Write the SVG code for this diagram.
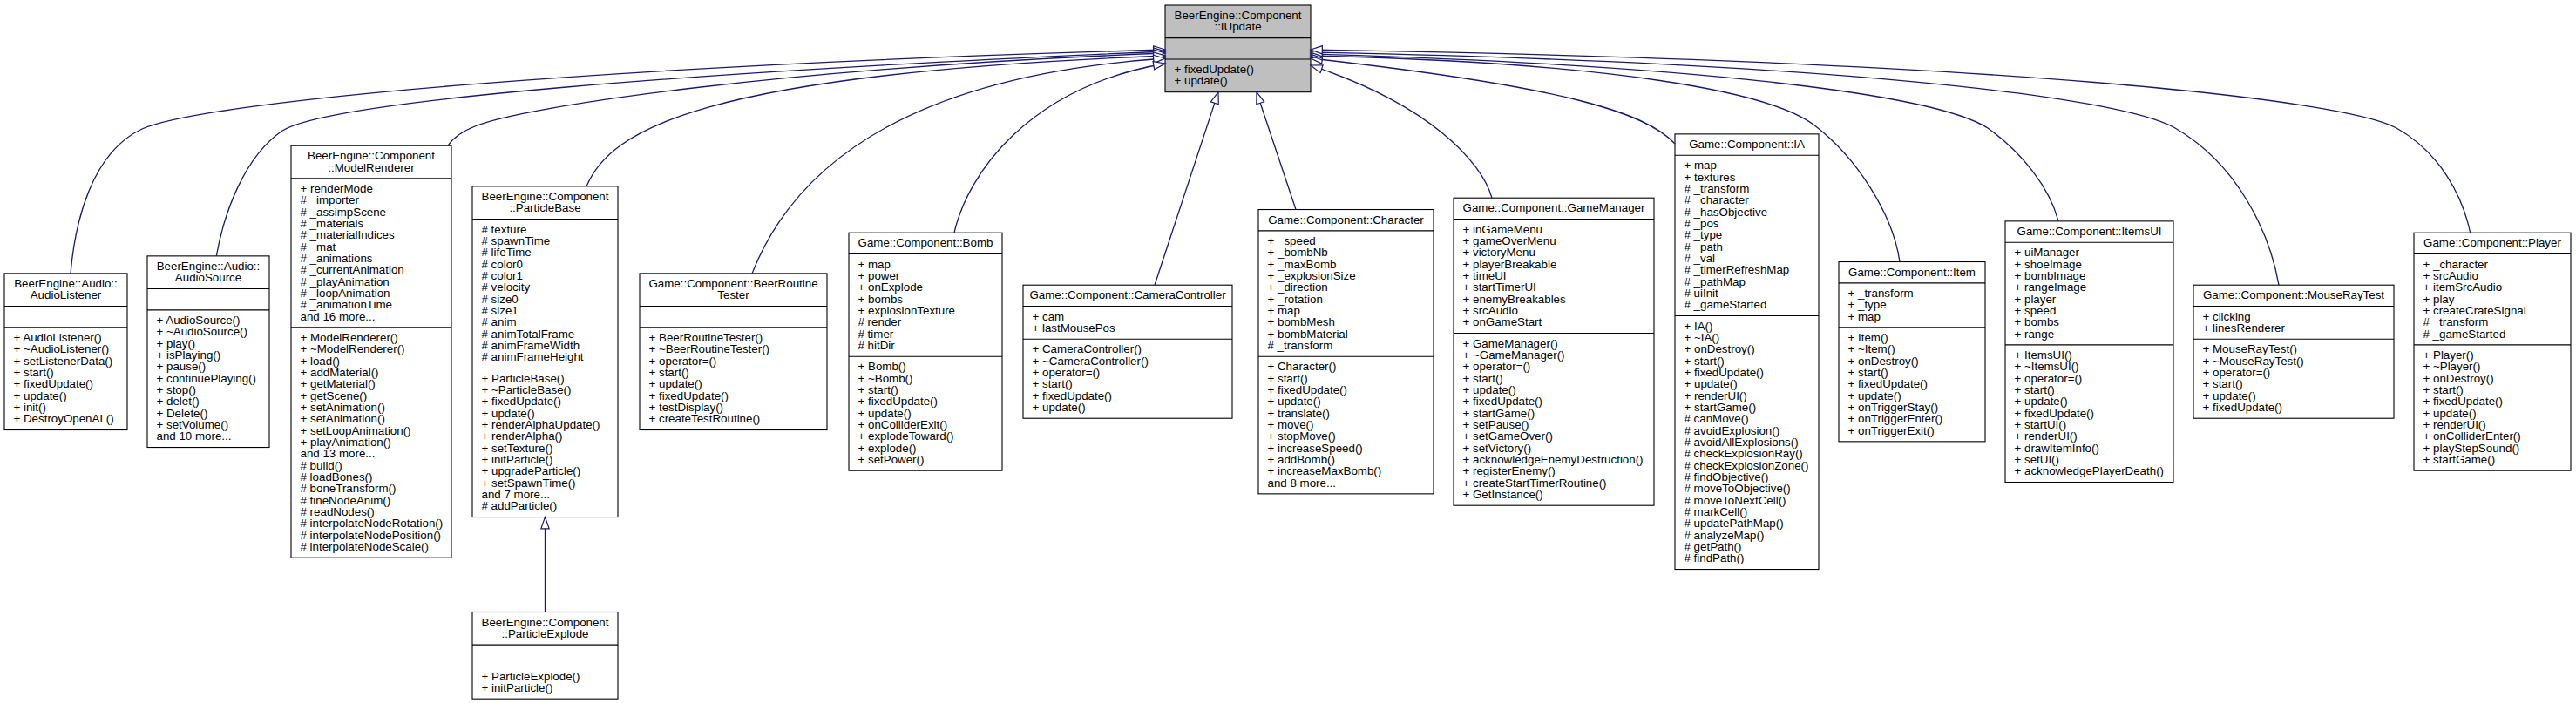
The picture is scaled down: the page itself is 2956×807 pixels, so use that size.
<svg xmlns="http://www.w3.org/2000/svg" width="2956" height="807" viewBox="0 0 2956 807">
<defs>
<style>
text{font-family:"Liberation Sans",Arial,Helvetica,sans-serif;font-size:13.33px;fill:#000}
.t{text-anchor:middle}
.n rect{fill:#fff;stroke:#000;stroke-width:1.1}
.n line{stroke:#000;stroke-width:1.1}
#n_iupdate rect{fill:#bfbfbf}
.e path{fill:none;stroke:#191970;stroke-width:1.3;marker-end:url(#arr)}
</style>
<marker id="arr" markerUnits="userSpaceOnUse" viewBox="-1 -1 16 12" refX="13.3" refY="4.67" markerWidth="16" markerHeight="12" orient="auto"><path d="M0,0 L13.3,4.67 L0,9.33 Z" fill="#fff" stroke="#191970" stroke-width="1.2"/></marker>
</defs>
<rect width="2956" height="807" fill="#fff"/>

<g id="n_iupdate" class="n"><rect x="1337" y="6" width="167" height="99.67"/><line x1="1337" y1="43.67" x2="1504" y2="43.67"/><line x1="1337" y1="68" x2="1504" y2="68"/>
<text class="t"><tspan x="1420.5" y="22">BeerEngine::Component</tspan><tspan x="1420.5" y="35.33">::IUpdate</tspan></text>
<text><tspan x="1347.5" y="84">+ fixedUpdate()</tspan><tspan x="1347.5" y="97.33">+ update()</tspan></text></g>

<g id="n_audiolistener" class="n"><rect x="5" y="313.87" width="141" height="179.67"/><line x1="5" y1="351.53" x2="146" y2="351.53"/><line x1="5" y1="375.87" x2="146" y2="375.87"/>
<text class="t"><tspan x="75.5" y="329.87">BeerEngine::Audio::</tspan><tspan x="75.5" y="343.2">AudioListener</tspan></text>
<text><tspan x="15.5" y="391.87">+ AudioListener()</tspan><tspan x="15.5" y="405.2">+ ~AudioListener()</tspan><tspan x="15.5" y="418.53">+ setListenerData()</tspan><tspan x="15.5" y="431.87">+ start()</tspan><tspan x="15.5" y="445.2">+ fixedUpdate()</tspan><tspan x="15.5" y="458.53">+ update()</tspan><tspan x="15.5" y="471.87">+ init()</tspan><tspan x="15.5" y="485.2">+ DestroyOpenAL()</tspan></text></g>

<g id="n_audiosource" class="n"><rect x="169" y="293.87" width="140" height="219.67"/><line x1="169" y1="331.53" x2="309" y2="331.53"/><line x1="169" y1="355.87" x2="309" y2="355.87"/>
<text class="t"><tspan x="239" y="309.87">BeerEngine::Audio::</tspan><tspan x="239" y="323.2">AudioSource</tspan></text>
<text><tspan x="179.5" y="371.87">+ AudioSource()</tspan><tspan x="179.5" y="385.2">+ ~AudioSource()</tspan><tspan x="179.5" y="398.53">+ play()</tspan><tspan x="179.5" y="411.87">+ isPlaying()</tspan><tspan x="179.5" y="425.2">+ pause()</tspan><tspan x="179.5" y="438.53">+ continuePlaying()</tspan><tspan x="179.5" y="451.87">+ stop()</tspan><tspan x="179.5" y="465.2">+ delet()</tspan><tspan x="179.5" y="478.53">+ Delete()</tspan><tspan x="179.5" y="491.87">+ setVolume()</tspan><tspan x="179.5" y="505.2">and 10 more...</tspan></text></g>

<g id="n_modelrenderer" class="n"><rect x="334" y="167.2" width="184" height="473"/><line x1="334" y1="204.87" x2="518" y2="204.87"/><line x1="334" y1="375.87" x2="518" y2="375.87"/>
<text class="t"><tspan x="426" y="183.2">BeerEngine::Component</tspan><tspan x="426" y="196.53">::ModelRenderer</tspan></text>
<text><tspan x="344.5" y="220.87">+ renderMode</tspan><tspan x="344.5" y="234.2"># _importer</tspan><tspan x="344.5" y="247.53"># _assimpScene</tspan><tspan x="344.5" y="260.87"># _materials</tspan><tspan x="344.5" y="274.2"># _materialIndices</tspan><tspan x="344.5" y="287.53"># _mat</tspan><tspan x="344.5" y="300.87"># _animations</tspan><tspan x="344.5" y="314.2"># _currentAnimation</tspan><tspan x="344.5" y="327.53"># _playAnimation</tspan><tspan x="344.5" y="340.87"># _loopAnimation</tspan><tspan x="344.5" y="354.2"># _animationTime</tspan><tspan x="344.5" y="367.53">and 16 more...</tspan></text>
<text><tspan x="344.5" y="391.87">+ ModelRenderer()</tspan><tspan x="344.5" y="405.2">+ ~ModelRenderer()</tspan><tspan x="344.5" y="418.53">+ load()</tspan><tspan x="344.5" y="431.87">+ addMaterial()</tspan><tspan x="344.5" y="445.2">+ getMaterial()</tspan><tspan x="344.5" y="458.53">+ getScene()</tspan><tspan x="344.5" y="471.87">+ setAnimation()</tspan><tspan x="344.5" y="485.2">+ setAnimation()</tspan><tspan x="344.5" y="498.53">+ setLoopAnimation()</tspan><tspan x="344.5" y="511.87">+ playAnimation()</tspan><tspan x="344.5" y="525.2">and 13 more...</tspan><tspan x="344.5" y="538.53"># build()</tspan><tspan x="344.5" y="551.87"># loadBones()</tspan><tspan x="344.5" y="565.2"># boneTransform()</tspan><tspan x="344.5" y="578.53"># fineNodeAnim()</tspan><tspan x="344.5" y="591.87"># readNodes()</tspan><tspan x="344.5" y="605.2"># interpolateNodeRotation()</tspan><tspan x="344.5" y="618.53"># interpolateNodePosition()</tspan><tspan x="344.5" y="631.87"># interpolateNodeScale()</tspan></text></g>

<g id="n_particlebase" class="n"><rect x="542" y="213.87" width="167" height="379.67"/><line x1="542" y1="251.53" x2="709" y2="251.53"/><line x1="542" y1="422.53" x2="709" y2="422.53"/>
<text class="t"><tspan x="625.5" y="229.87">BeerEngine::Component</tspan><tspan x="625.5" y="243.2">::ParticleBase</tspan></text>
<text><tspan x="552.5" y="267.53"># texture</tspan><tspan x="552.5" y="280.87"># spawnTime</tspan><tspan x="552.5" y="294.2"># lifeTime</tspan><tspan x="552.5" y="307.53"># color0</tspan><tspan x="552.5" y="320.87"># color1</tspan><tspan x="552.5" y="334.2"># velocity</tspan><tspan x="552.5" y="347.53"># size0</tspan><tspan x="552.5" y="360.87"># size1</tspan><tspan x="552.5" y="374.2"># anim</tspan><tspan x="552.5" y="387.53"># animTotalFrame</tspan><tspan x="552.5" y="400.87"># animFrameWidth</tspan><tspan x="552.5" y="414.2"># animFrameHeight</tspan></text>
<text><tspan x="552.5" y="438.53">+ ParticleBase()</tspan><tspan x="552.5" y="451.87">+ ~ParticleBase()</tspan><tspan x="552.5" y="465.2">+ fixedUpdate()</tspan><tspan x="552.5" y="478.53">+ update()</tspan><tspan x="552.5" y="491.87">+ renderAlphaUpdate()</tspan><tspan x="552.5" y="505.2">+ renderAlpha()</tspan><tspan x="552.5" y="518.53">+ setTexture()</tspan><tspan x="552.5" y="531.87">+ initParticle()</tspan><tspan x="552.5" y="545.2">+ upgradeParticle()</tspan><tspan x="552.5" y="558.53">+ setSpawnTime()</tspan><tspan x="552.5" y="571.87">and 7 more...</tspan><tspan x="552.5" y="585.2"># addParticle()</tspan></text></g>

<g id="n_particleexplode" class="n"><rect x="542" y="702.5" width="167" height="99.67"/><line x1="542" y1="740.17" x2="709" y2="740.17"/><line x1="542" y1="764.5" x2="709" y2="764.5"/>
<text class="t"><tspan x="625.5" y="718.5">BeerEngine::Component</tspan><tspan x="625.5" y="731.83">::ParticleExplode</tspan></text>
<text><tspan x="552.5" y="780.5">+ ParticleExplode()</tspan><tspan x="552.5" y="793.83">+ initParticle()</tspan></text></g>

<g id="n_beerroutinetester" class="n"><rect x="734" y="313.87" width="215" height="179.67"/><line x1="734" y1="351.53" x2="949" y2="351.53"/><line x1="734" y1="375.87" x2="949" y2="375.87"/>
<text class="t"><tspan x="841.5" y="329.87">Game::Component::BeerRoutine</tspan><tspan x="841.5" y="343.2">Tester</tspan></text>
<text><tspan x="744.5" y="391.87">+ BeerRoutineTester()</tspan><tspan x="744.5" y="405.2">+ ~BeerRoutineTester()</tspan><tspan x="744.5" y="418.53">+ operator=()</tspan><tspan x="744.5" y="431.87">+ start()</tspan><tspan x="744.5" y="445.2">+ update()</tspan><tspan x="744.5" y="458.53">+ fixedUpdate()</tspan><tspan x="744.5" y="471.87">+ testDisplay()</tspan><tspan x="744.5" y="485.2">+ createTestRoutine()</tspan></text></g>

<g id="n_bomb" class="n"><rect x="974" y="267.2" width="176" height="273"/><line x1="974" y1="291.53" x2="1150" y2="291.53"/><line x1="974" y1="409.2" x2="1150" y2="409.2"/>
<text class="t"><tspan x="1062" y="283.2">Game::Component::Bomb</tspan></text>
<text><tspan x="984.5" y="307.53">+ map</tspan><tspan x="984.5" y="320.87">+ power</tspan><tspan x="984.5" y="334.2">+ onExplode</tspan><tspan x="984.5" y="347.53">+ bombs</tspan><tspan x="984.5" y="360.87">+ explosionTexture</tspan><tspan x="984.5" y="374.2"># render</tspan><tspan x="984.5" y="387.53"># timer</tspan><tspan x="984.5" y="400.87"># hitDir</tspan></text>
<text><tspan x="984.5" y="425.2">+ Bomb()</tspan><tspan x="984.5" y="438.53">+ ~Bomb()</tspan><tspan x="984.5" y="451.87">+ start()</tspan><tspan x="984.5" y="465.2">+ fixedUpdate()</tspan><tspan x="984.5" y="478.53">+ update()</tspan><tspan x="984.5" y="491.87">+ onColliderExit()</tspan><tspan x="984.5" y="505.2">+ explodeToward()</tspan><tspan x="984.5" y="518.53">+ explode()</tspan><tspan x="984.5" y="531.87">+ setPower()</tspan></text></g>

<g id="n_cameracontroller" class="n"><rect x="1174" y="327.2" width="240" height="153"/><line x1="1174" y1="351.53" x2="1414" y2="351.53"/><line x1="1174" y1="389.2" x2="1414" y2="389.2"/>
<text class="t"><tspan x="1294" y="343.2">Game::Component::CameraController</tspan></text>
<text><tspan x="1184.5" y="367.53">+ cam</tspan><tspan x="1184.5" y="380.87">+ lastMousePos</tspan></text>
<text><tspan x="1184.5" y="405.2">+ CameraController()</tspan><tspan x="1184.5" y="418.53">+ ~CameraController()</tspan><tspan x="1184.5" y="431.87">+ operator=()</tspan><tspan x="1184.5" y="445.2">+ start()</tspan><tspan x="1184.5" y="458.53">+ fixedUpdate()</tspan><tspan x="1184.5" y="471.87">+ update()</tspan></text></g>

<g id="n_character" class="n"><rect x="1444" y="240.53" width="201" height="326.33"/><line x1="1444" y1="264.87" x2="1645" y2="264.87"/><line x1="1444" y1="409.2" x2="1645" y2="409.2"/>
<text class="t"><tspan x="1544.5" y="256.53">Game::Component::Character</tspan></text>
<text><tspan x="1454.5" y="280.87">+ _speed</tspan><tspan x="1454.5" y="294.2">+ _bombNb</tspan><tspan x="1454.5" y="307.53">+ _maxBomb</tspan><tspan x="1454.5" y="320.87">+ _explosionSize</tspan><tspan x="1454.5" y="334.2">+ _direction</tspan><tspan x="1454.5" y="347.53">+ _rotation</tspan><tspan x="1454.5" y="360.87">+ map</tspan><tspan x="1454.5" y="374.2">+ bombMesh</tspan><tspan x="1454.5" y="387.53">+ bombMaterial</tspan><tspan x="1454.5" y="400.87"># _transform</tspan></text>
<text><tspan x="1454.5" y="425.2">+ Character()</tspan><tspan x="1454.5" y="438.53">+ start()</tspan><tspan x="1454.5" y="451.87">+ fixedUpdate()</tspan><tspan x="1454.5" y="465.2">+ update()</tspan><tspan x="1454.5" y="478.53">+ translate()</tspan><tspan x="1454.5" y="491.87">+ move()</tspan><tspan x="1454.5" y="505.2">+ stopMove()</tspan><tspan x="1454.5" y="518.53">+ increaseSpeed()</tspan><tspan x="1454.5" y="531.87">+ addBomb()</tspan><tspan x="1454.5" y="545.2">+ increaseMaxBomb()</tspan><tspan x="1454.5" y="558.53">and 8 more...</tspan></text></g>

<g id="n_gamemanager" class="n"><rect x="1668" y="227.2" width="230" height="353"/><line x1="1668" y1="251.53" x2="1898" y2="251.53"/><line x1="1668" y1="382.53" x2="1898" y2="382.53"/>
<text class="t"><tspan x="1783" y="243.2">Game::Component::GameManager</tspan></text>
<text><tspan x="1678.5" y="267.53">+ inGameMenu</tspan><tspan x="1678.5" y="280.87">+ gameOverMenu</tspan><tspan x="1678.5" y="294.2">+ victoryMenu</tspan><tspan x="1678.5" y="307.53">+ playerBreakable</tspan><tspan x="1678.5" y="320.87">+ timeUI</tspan><tspan x="1678.5" y="334.2">+ startTimerUI</tspan><tspan x="1678.5" y="347.53">+ enemyBreakables</tspan><tspan x="1678.5" y="360.87">+ srcAudio</tspan><tspan x="1678.5" y="374.2">+ onGameStart</tspan></text>
<text><tspan x="1678.5" y="398.53">+ GameManager()</tspan><tspan x="1678.5" y="411.87">+ ~GameManager()</tspan><tspan x="1678.5" y="425.2">+ operator=()</tspan><tspan x="1678.5" y="438.53">+ start()</tspan><tspan x="1678.5" y="451.87">+ update()</tspan><tspan x="1678.5" y="465.2">+ fixedUpdate()</tspan><tspan x="1678.5" y="478.53">+ startGame()</tspan><tspan x="1678.5" y="491.87">+ setPause()</tspan><tspan x="1678.5" y="505.2">+ setGameOver()</tspan><tspan x="1678.5" y="518.53">+ setVictory()</tspan><tspan x="1678.5" y="531.87">+ acknowledgeEnemyDestruction()</tspan><tspan x="1678.5" y="545.2">+ registerEnemy()</tspan><tspan x="1678.5" y="558.53">+ createStartTimerRoutine()</tspan><tspan x="1678.5" y="571.87">+ GetInstance()</tspan></text></g>

<g id="n_ia" class="n"><rect x="1922" y="153.87" width="165" height="499.67"/><line x1="1922" y1="178.2" x2="2087" y2="178.2"/><line x1="1922" y1="362.53" x2="2087" y2="362.53"/>
<text class="t"><tspan x="2004.5" y="169.87">Game::Component::IA</tspan></text>
<text><tspan x="1932.5" y="194.2">+ map</tspan><tspan x="1932.5" y="207.53">+ textures</tspan><tspan x="1932.5" y="220.87"># _transform</tspan><tspan x="1932.5" y="234.2"># _character</tspan><tspan x="1932.5" y="247.53"># _hasObjective</tspan><tspan x="1932.5" y="260.87"># _pos</tspan><tspan x="1932.5" y="274.2"># _type</tspan><tspan x="1932.5" y="287.53"># _path</tspan><tspan x="1932.5" y="300.87"># _val</tspan><tspan x="1932.5" y="314.2"># _timerRefreshMap</tspan><tspan x="1932.5" y="327.53"># _pathMap</tspan><tspan x="1932.5" y="340.87"># uiInit</tspan><tspan x="1932.5" y="354.2"># _gameStarted</tspan></text>
<text><tspan x="1932.5" y="378.53">+ IA()</tspan><tspan x="1932.5" y="391.87">+ ~IA()</tspan><tspan x="1932.5" y="405.2">+ onDestroy()</tspan><tspan x="1932.5" y="418.53">+ start()</tspan><tspan x="1932.5" y="431.87">+ fixedUpdate()</tspan><tspan x="1932.5" y="445.2">+ update()</tspan><tspan x="1932.5" y="458.53">+ renderUI()</tspan><tspan x="1932.5" y="471.87">+ startGame()</tspan><tspan x="1932.5" y="485.2"># canMove()</tspan><tspan x="1932.5" y="498.53"># avoidExplosion()</tspan><tspan x="1932.5" y="511.87"># avoidAllExplosions()</tspan><tspan x="1932.5" y="525.2"># checkExplosionRay()</tspan><tspan x="1932.5" y="538.53"># checkExplosionZone()</tspan><tspan x="1932.5" y="551.87"># findObjective()</tspan><tspan x="1932.5" y="565.2"># moveToObjective()</tspan><tspan x="1932.5" y="578.53"># moveToNextCell()</tspan><tspan x="1932.5" y="591.87"># markCell()</tspan><tspan x="1932.5" y="605.2"># updatePathMap()</tspan><tspan x="1932.5" y="618.53"># analyzeMap()</tspan><tspan x="1932.5" y="631.87"># getPath()</tspan><tspan x="1932.5" y="645.2"># findPath()</tspan></text></g>

<g id="n_item" class="n"><rect x="2110" y="300.53" width="168" height="206.33"/><line x1="2110" y1="324.87" x2="2278" y2="324.87"/><line x1="2110" y1="375.87" x2="2278" y2="375.87"/>
<text class="t"><tspan x="2194" y="316.53">Game::Component::Item</tspan></text>
<text><tspan x="2120.5" y="340.87">+ _transform</tspan><tspan x="2120.5" y="354.2">+ _type</tspan><tspan x="2120.5" y="367.53">+ map</tspan></text>
<text><tspan x="2120.5" y="391.87">+ Item()</tspan><tspan x="2120.5" y="405.2">+ ~Item()</tspan><tspan x="2120.5" y="418.53">+ onDestroy()</tspan><tspan x="2120.5" y="431.87">+ start()</tspan><tspan x="2120.5" y="445.2">+ fixedUpdate()</tspan><tspan x="2120.5" y="458.53">+ update()</tspan><tspan x="2120.5" y="471.87">+ onTriggerStay()</tspan><tspan x="2120.5" y="485.2">+ onTriggerEnter()</tspan><tspan x="2120.5" y="498.53">+ onTriggerExit()</tspan></text></g>

<g id="n_itemsui" class="n"><rect x="2301" y="253.87" width="193" height="299.67"/><line x1="2301" y1="278.2" x2="2494" y2="278.2"/><line x1="2301" y1="395.87" x2="2494" y2="395.87"/>
<text class="t"><tspan x="2397.5" y="269.87">Game::Component::ItemsUI</tspan></text>
<text><tspan x="2311.5" y="294.2">+ uiManager</tspan><tspan x="2311.5" y="307.53">+ shoeImage</tspan><tspan x="2311.5" y="320.87">+ bombImage</tspan><tspan x="2311.5" y="334.2">+ rangeImage</tspan><tspan x="2311.5" y="347.53">+ player</tspan><tspan x="2311.5" y="360.87">+ speed</tspan><tspan x="2311.5" y="374.2">+ bombs</tspan><tspan x="2311.5" y="387.53">+ range</tspan></text>
<text><tspan x="2311.5" y="411.87">+ ItemsUI()</tspan><tspan x="2311.5" y="425.2">+ ~ItemsUI()</tspan><tspan x="2311.5" y="438.53">+ operator=()</tspan><tspan x="2311.5" y="451.87">+ start()</tspan><tspan x="2311.5" y="465.2">+ update()</tspan><tspan x="2311.5" y="478.53">+ fixedUpdate()</tspan><tspan x="2311.5" y="491.87">+ startUI()</tspan><tspan x="2311.5" y="505.2">+ renderUI()</tspan><tspan x="2311.5" y="518.53">+ drawItemInfo()</tspan><tspan x="2311.5" y="531.87">+ setUI()</tspan><tspan x="2311.5" y="545.2">+ acknowledgePlayerDeath()</tspan></text></g>

<g id="n_mouseraytest" class="n"><rect x="2517" y="327.2" width="230" height="153"/><line x1="2517" y1="351.53" x2="2747" y2="351.53"/><line x1="2517" y1="389.2" x2="2747" y2="389.2"/>
<text class="t"><tspan x="2632" y="343.2">Game::Component::MouseRayTest</tspan></text>
<text><tspan x="2527.5" y="367.53">+ clicking</tspan><tspan x="2527.5" y="380.87">+ linesRenderer</tspan></text>
<text><tspan x="2527.5" y="405.2">+ MouseRayTest()</tspan><tspan x="2527.5" y="418.53">+ ~MouseRayTest()</tspan><tspan x="2527.5" y="431.87">+ operator=()</tspan><tspan x="2527.5" y="445.2">+ start()</tspan><tspan x="2527.5" y="458.53">+ update()</tspan><tspan x="2527.5" y="471.87">+ fixedUpdate()</tspan></text></g>

<g id="n_player" class="n"><rect x="2770" y="267.2" width="180" height="273"/><line x1="2770" y1="291.53" x2="2950" y2="291.53"/><line x1="2770" y1="395.87" x2="2950" y2="395.87"/>
<text class="t"><tspan x="2860" y="283.2">Game::Component::Player</tspan></text>
<text><tspan x="2780.5" y="307.53">+ _character</tspan><tspan x="2780.5" y="320.87">+ srcAudio</tspan><tspan x="2780.5" y="334.2">+ itemSrcAudio</tspan><tspan x="2780.5" y="347.53">+ play</tspan><tspan x="2780.5" y="360.87">+ createCrateSignal</tspan><tspan x="2780.5" y="374.2"># _transform</tspan><tspan x="2780.5" y="387.53"># _gameStarted</tspan></text>
<text><tspan x="2780.5" y="411.87">+ Player()</tspan><tspan x="2780.5" y="425.2">+ ~Player()</tspan><tspan x="2780.5" y="438.53">+ onDestroy()</tspan><tspan x="2780.5" y="451.87">+ start()</tspan><tspan x="2780.5" y="465.2">+ fixedUpdate()</tspan><tspan x="2780.5" y="478.53">+ update()</tspan><tspan x="2780.5" y="491.87">+ renderUI()</tspan><tspan x="2780.5" y="505.2">+ onColliderEnter()</tspan><tspan x="2780.5" y="518.53">+ playStepSound()</tspan><tspan x="2780.5" y="531.87">+ startGame()</tspan></text></g>

<g id="edges" class="e">
<path d="M81,313.87 C86,255 105,175 163,148 C240,115 700,75 1337,57"/>
<path d="M248.3,293.87 C257,245 280,180 324,150 C380,115 800,82 1337,59"/>
<path d="M514,167.2 C520,158 530,151 545,145 C600,122 900,78 1337,61"/>
<path d="M673,213.87 C700,150 800,85 1337,64"/>
<path d="M863,313.87 C900,220 1000,90 1337,67"/>
<path d="M1095,267.2 C1110,200 1180,100 1337,73"/>
<path d="M1325,327.2 L1398,105.67"/>
<path d="M1487,240.53 L1442,105.67"/>
<path d="M1712,227.2 C1700,185 1640,120 1504,75"/>
<path d="M1922,165 C1890,130 1800,100 1504,67"/>
<path d="M2180,300.53 C2172,245 2130,180 2081,143 C2030,105 1850,72 1504,64"/>
<path d="M2362,253.87 C2352,215 2320,175 2281,147 C2220,108 1950,75 1504,62"/>
<path d="M2615,327.2 C2605,270 2570,190 2496,147 C2430,110 2100,72 1504,60"/>
<path d="M2834.6,267.2 C2826,225 2800,175 2750,147 C2690,114 2300,70 1504,57"/>
<path d="M625.5,702.5 L625.5,593.53"/>
</g>
</svg>
